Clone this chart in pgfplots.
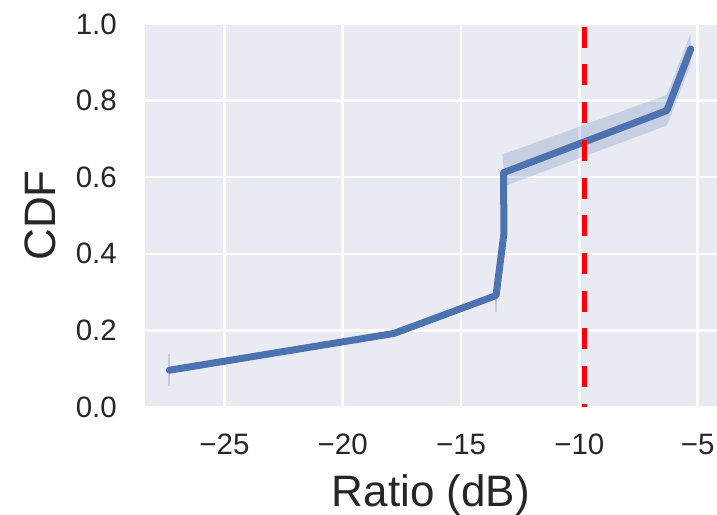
\documentclass[border=0pt]{standalone}
\usepackage{pgfplots}
\pgfplotsset{compat=1.18}
\usepackage{fontspec}
\setmainfont{Liberation Sans}
\definecolor{bg}{HTML}{EAEAF2}
\definecolor{sblue}{HTML}{4C72B0}
\definecolor{txt}{HTML}{262626}
\begin{document}
\begin{tikzpicture}
\begin{axis}[
 width=572pt, height=383pt, scale only axis,
 xmin=-28.36, xmax=-4.18, ymin=0, ymax=1,
 axis background/.style={fill=bg},
 axis line style={draw=none},
 major tick length=0pt,
 grid=major, grid style={white, line width=2.6pt},
 xtick={-25,-20,-15,-10,-5},
 xticklabels={−25,−20,−15,−10,−5},
 ytick={0,0.2,0.4,0.6,0.8,1.0},
 yticklabels={0.0,0.2,0.4,0.6,0.8,1.0},
 tick label style={font=\fontsize{29.5}{30}\selectfont, text=txt, inner sep=0pt},
 xticklabel style={anchor=north, yshift=-27pt},
 yticklabel style={anchor=east, xshift=-28pt},
 xlabel={Ratio (dB)}, ylabel={CDF},
 label style={font=\fontsize{44}{44}\selectfont, text=txt, inner sep=0pt},
 xlabel style={at={(axis description cs:0.5,-0.261)}, anchor=base},
 ylabel style={at={(axis description cs:-0.157,0.5)}, anchor=base},
 clip=true,
]
\addplot[sblue, opacity=0.25, line width=2pt, forget plot] coordinates {(-27.33,0.054) (-27.33,0.138)};
\addplot[sblue, opacity=0.25, line width=2pt, forget plot] coordinates {(-13.52,0.247) (-13.52,0.30)};
\addplot[fill=sblue, fill opacity=0.22, draw=none, forget plot] coordinates {(-13.25,0.659) (-6.3,0.815) (-5.29,0.976) (-5.29,0.893) (-6.3,0.735) (-13.15,0.577)};
\addplot[sblue, line width=7pt, line join=round, line cap=round] coordinates {(-27.33,0.096) (-17.84,0.192) (-13.52,0.291) (-13.19,0.452) (-13.2,0.612) (-6.3,0.774) (-5.29,0.935)};
\addplot[red, line width=5.5pt, dash pattern=on 21pt off 16.7pt, dash phase=35pt] coordinates {(-9.79,1) (-9.79,0)};
\end{axis}
\pgfresetboundingbox
\path[use as bounding box] ([xshift=-145pt,yshift=-107pt]current axis.south west) rectangle ([yshift=24pt]current axis.north east);
\end{tikzpicture}
\end{document}
